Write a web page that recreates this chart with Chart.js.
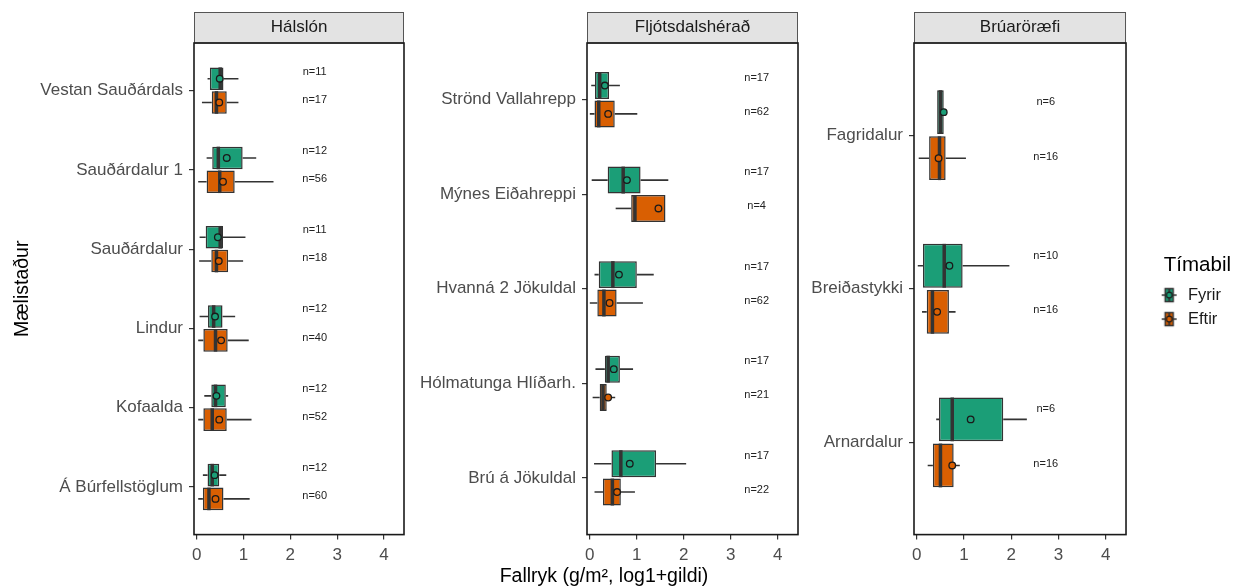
<!DOCTYPE html>
<html>
<head>
<meta charset="utf-8">
<script src="https://cdn.jsdelivr.net/npm/chart.js@4.4.0/dist/chart.umd.min.js"></script>
<style>
    body { margin: 0; background: #ffffff; }
    #wrap { position: relative; width: 1241px; height: 588px; overflow: hidden; }
    canvas { position: absolute; top: 0; }
</style>
</head>
<body>
<div id="wrap">
    <canvas id="p1" width="412" height="588" style="left:0px"></canvas>
    <canvas id="p2" width="530" height="588" style="left:410px"></canvas>
    <canvas id="p3" width="441" height="588" style="left:800px"></canvas>
</div>
<script>
// ---- data ----
const groups = ['Fyrir', 'Eftir'];
const panelTitles = ['Hálslón', 'Fljótsdalshérað', 'Brúaröræfi'];
const xTicks = [0, 1, 2, 3, 4];

// each row: [lower whisker, Q1, median, Q3, upper whisker, mean]
const halslonSites = ['Vestan Sauðárdals', 'Sauðárdalur 1', 'Sauðárdalur', 'Lindur', 'Kofaalda', 'Á Búrfellstöglum'];
const halslonFyrir = [
    [0.23, 0.28, 0.50, 0.57, 0.89, 0.49],
    [0.21, 0.33, 0.46, 0.98, 1.27, 0.64],
    [0.06, 0.19, 0.50, 0.56, 1.04, 0.45],
    [0.06, 0.24, 0.36, 0.55, 0.82, 0.39],
    [0.16, 0.31, 0.40, 0.62, 0.67, 0.42],
    [0.13, 0.23, 0.33, 0.48, 0.63, 0.38]
];
const halslonEftir = [
    [0.11, 0.32, 0.42, 0.64, 0.89, 0.48],
    [0.03, 0.21, 0.49, 0.81, 1.64, 0.56],
    [0.05, 0.31, 0.42, 0.67, 0.99, 0.47],
    [0.03, 0.14, 0.40, 0.66, 1.11, 0.52],
    [0.03, 0.14, 0.33, 0.64, 1.17, 0.48],
    [0.03, 0.13, 0.26, 0.57, 1.13, 0.40]
];
const halslonNFyrir = [11, 12, 11, 12, 12, 12];
const halslonNEftir = [17, 56, 18, 40, 52, 60];

const fljotSites = ['Strönd Vallahrepp', 'Mýnes Eiðahreppi', 'Hvanná 2 Jökuldal', 'Hólmatunga Hlíðarh.', 'Brú á Jökuldal'];
const fljotFyrir = [
    [0.03, 0.11, 0.21, 0.41, 0.64, 0.32],
    [0.04, 0.38, 0.71, 1.08, 1.67, 0.79],
    [0.10, 0.19, 0.49, 1.00, 1.36, 0.62],
    [0.12, 0.32, 0.39, 0.64, 0.92, 0.51],
    [0.09, 0.46, 0.66, 1.41, 2.05, 0.85]
];
const fljotEftir = [
    [0.00, 0.10, 0.19, 0.53, 1.01, 0.39],
    [0.55, 0.88, 0.96, 1.61, 1.61, 1.46],
    [0.00, 0.16, 0.30, 0.57, 1.13, 0.42],
    [0.06, 0.21, 0.28, 0.36, 0.54, 0.39],
    [0.10, 0.28, 0.48, 0.66, 0.96, 0.58]
];
const fljotNFyrir = [17, 17, 17, 17, 17];
const fljotNEftir = [62, 4, 62, 21, 22];

const bruarSites = ['Fagridalur', 'Breiðastykki', 'Arnardalur'];
const bruarFyrir = [
    [0.43, 0.43, 0.50, 0.57, 0.57, 0.57],
    [0.02, 0.13, 0.58, 0.97, 1.96, 0.69],
    [0.41, 0.47, 0.75, 1.83, 2.33, 1.14]
];
const bruarEftir = [
    [0.04, 0.26, 0.48, 0.61, 1.04, 0.46],
    [0.11, 0.21, 0.33, 0.68, 0.82, 0.43],
    [0.23, 0.34, 0.50, 0.78, 0.91, 0.75]
];
const bruarNFyrir = [6, 10, 6];
const bruarNEftir = [16, 16, 16];

// ---- style ----
const groupColors = ['#1b9e77', '#d95f02'];
const nShift = [-0.19, 0.167];
Chart.defaults.font.family = '"Liberation Sans", Arial, sans-serif';

// whiskers, medians, means, n labels, strip and panel border
const boxExtras = {
    id: 'boxExtras',
    beforeDraw(chart) {
        const {ctx, chartArea: a} = chart;
        ctx.save();
        ctx.fillStyle = '#e3e3e3';
        ctx.fillRect(a.left, 12, a.width, a.top - 12);
        ctx.strokeStyle = '#555555';
        ctx.lineWidth = 1;
        ctx.strokeRect(a.left + 0.5, 12.5, a.width - 1, a.top - 12.5);
        ctx.restore();
    },
    afterDatasetsDraw(chart, args, opts) {
        const {ctx, scales: {x, y}} = chart;
        ctx.save();
        chart.data.datasets.forEach((ds, di) => {
            const meta = chart.getDatasetMeta(di);
            meta.data.forEach((bar, i) => {
                const [lo, q1, med, q3, hi, mean] = ds.stats[i];
                const p = bar.getProps(['y', 'height'], true);
                const top = p.y - p.height / 2;
                const bot = p.y + p.height / 2;

                ctx.strokeStyle = '#333333';
                ctx.lineWidth = 1.6;
                ctx.beginPath();
                ctx.moveTo(x.getPixelForValue(lo), p.y);
                ctx.lineTo(x.getPixelForValue(q1), p.y);
                ctx.moveTo(x.getPixelForValue(q3), p.y);
                ctx.lineTo(x.getPixelForValue(hi), p.y);
                ctx.stroke();

                ctx.lineWidth = 3.5;
                ctx.beginPath();
                ctx.moveTo(x.getPixelForValue(med), top);
                ctx.lineTo(x.getPixelForValue(med), bot);
                ctx.stroke();

                ctx.beginPath();
                ctx.arc(x.getPixelForValue(mean), p.y, 3.3, 0, Math.PI * 2);
                ctx.fillStyle = ds.backgroundColor;
                ctx.fill();
                ctx.lineWidth = 1.3;
                ctx.strokeStyle = '#1a1a1a';
                ctx.stroke();

                ctx.fillStyle = '#222222';
                ctx.font = '11px "Liberation Sans", Arial, sans-serif';
                ctx.textAlign = 'center';
                ctx.textBaseline = 'middle';
                ctx.fillText('n=' + ds.counts[i], x.getPixelForValue(opts.nX), y.getPixelForValue(i + nShift[di]) - 4);
            });
        });
        ctx.restore();
    },
    afterDraw(chart) {
        const {ctx, chartArea: a} = chart;
        ctx.save();
        ctx.strokeStyle = '#1a1a1a';
        ctx.lineWidth = 1.6;
        ctx.strokeRect(a.left, a.top, a.width, a.height);
        ctx.restore();
    }
};

function legendGlyph(color) {
    const c = document.createElement('canvas');
    c.width = 46;
    c.height = 20;
    const g = c.getContext('2d');
    g.strokeStyle = '#333333';
    g.lineWidth = 1.5;
    g.beginPath();
    g.moveTo(28, 10);
    g.lineTo(43, 10);
    g.stroke();
    g.fillStyle = color;
    g.fillRect(31.5, 3.5, 8, 13);
    g.strokeRect(31.5, 3.5, 8, 13);
    g.lineWidth = 2;
    g.beginPath();
    g.moveTo(35.5, 3.5);
    g.lineTo(35.5, 16.5);
    g.stroke();
    g.beginPath();
    g.arc(35.5, 10, 2.8, 0, Math.PI * 2);
    g.fillStyle = color;
    g.fill();
    g.lineWidth = 1.2;
    g.strokeStyle = '#1a1a1a';
    g.stroke();
    return c;
}
const glyphs = groupColors.map(legendGlyph);

function makePanel(id, cfg) {
    const stats = [cfg.fyrir, cfg.eftir];
    const counts = [cfg.nFyrir, cfg.nEftir];
    const datasets = groups.map((g, gi) => ({
        label: g,
        data: stats[gi].map((s, i) => ({y: i, x: [s[1], s[3]]})),
        stats: stats[gi],
        counts: counts[gi],
        backgroundColor: groupColors[gi],
        borderColor: '#333333',
        borderWidth: 1.5,
        borderSkipped: false,
        categoryPercentage: 0.6,
        barPercentage: 0.95
    }));

    return new Chart(document.getElementById(id), {
        type: 'bar',
        data: { datasets: datasets },
        plugins: [boxExtras],
        options: {
            indexAxis: 'y',
            responsive: false,
            animation: false,
            devicePixelRatio: 1,
            events: [],
            layout: { padding: cfg.padding },
            scales: {
                x: {
                    type: 'linear',
                    min: -0.06,
                    max: 4.43,
                    afterBuildTicks: (s) => { s.ticks = xTicks.map(v => ({value: v})); },
                    afterFit: (s) => { s.height = 30; },
                    ticks: { color: '#4d4d4d', font: { size: 17 }, padding: 6, maxRotation: 0 },
                    grid: { drawOnChartArea: false, tickLength: 5, color: '#333333', lineWidth: 1.2 },
                    border: { display: false }
                },
                y: {
                    type: 'linear',
                    reverse: true,
                    offset: false,
                    min: -0.6,
                    max: cfg.sites.length - 0.4,
                    afterBuildTicks: (s) => { s.ticks = cfg.sites.map((_, i) => ({value: i})); },
                    afterFit: (s) => { s.width = cfg.axisWidth; },
                    ticks: {
                        callback: (v) => cfg.sites[v],
                        color: '#4d4d4d',
                        font: { size: 17 },
                        padding: 6,
                        autoSkip: false
                    },
                    grid: { offset: false, drawOnChartArea: false, tickLength: 5, color: '#333333', lineWidth: 1.2 },
                    border: { display: false },
                    title: {
                        display: !!cfg.yTitle,
                        text: cfg.yTitle || '',
                        color: '#000000',
                        font: { size: 19.5 },
                        padding: { top: 11, bottom: 0 }
                    }
                }
            },
            plugins: {
                boxExtras: { nX: cfg.nX },
                tooltip: { enabled: false },
                title: {
                    display: true,
                    text: cfg.title,
                    fullSize: false,
                    color: '#1a1a1a',
                    font: { size: 17, weight: 'normal' },
                    padding: { top: 5.3, bottom: 5.3 }
                },
                subtitle: {
                    display: !!cfg.xTitle,
                    text: cfg.xTitle || '',
                    position: 'bottom',
                    color: '#000000',
                    font: { size: 19.5, weight: 'normal' },
                    padding: 0
                },
                legend: cfg.legend ? {
                    display: true,
                    position: 'right',
                    align: 'center',
                    fullSize: false,
                    maxWidth: 105,
                    title: {
                        display: true,
                        text: 'Tímabil',
                        position: 'end',
                        color: '#000000',
                        font: { size: 20.5 },
                        padding: { top: 12, bottom: 0 }
                    },
                    labels: {
                        usePointStyle: true,
                        pointStyleWidth: 46.25,
                        padding: 7.5,
                        color: '#1a1a1a',
                        font: { size: 16.5 },
                        generateLabels: () => groups.map((g, i) => ({
                            text: g,
                            pointStyle: glyphs[i],
                            fillStyle: groupColors[i],
                            strokeStyle: '#333333',
                            lineWidth: 0,
                            hidden: false,
                            datasetIndex: i,
                            fontColor: '#1a1a1a'
                        }))
                    }
                } : { display: false }
            }
        }
    });
}

makePanel('p1', {
    title: panelTitles[0], sites: halslonSites, fyrir: halslonFyrir, eftir: halslonEftir,
    nFyrir: halslonNFyrir, nEftir: halslonNEftir, nX: 2.52,
    axisWidth: 194, yTitle: 'Mælistaður',
    padding: { top: 12, right: 8, bottom: 23.4, left: 0 }
});
makePanel('p2', {
    title: panelTitles[1], sites: fljotSites, fyrir: fljotFyrir, eftir: fljotEftir,
    nFyrir: fljotNFyrir, nEftir: fljotNEftir, nX: 3.55,
    axisWidth: 177, xTitle: 'Fallryk (g/m², log1+gildi)',
    padding: { top: 12, right: 142, bottom: 0, left: 0 }
});
makePanel('p3', {
    title: panelTitles[2], sites: bruarSites, fyrir: bruarFyrir, eftir: bruarEftir,
    nFyrir: bruarNFyrir, nEftir: bruarNEftir, nX: 2.73,
    axisWidth: 114, legend: true,
    padding: { top: 12, right: 10, bottom: 23.4, left: 0 }
});
</script>
</body>
</html>
